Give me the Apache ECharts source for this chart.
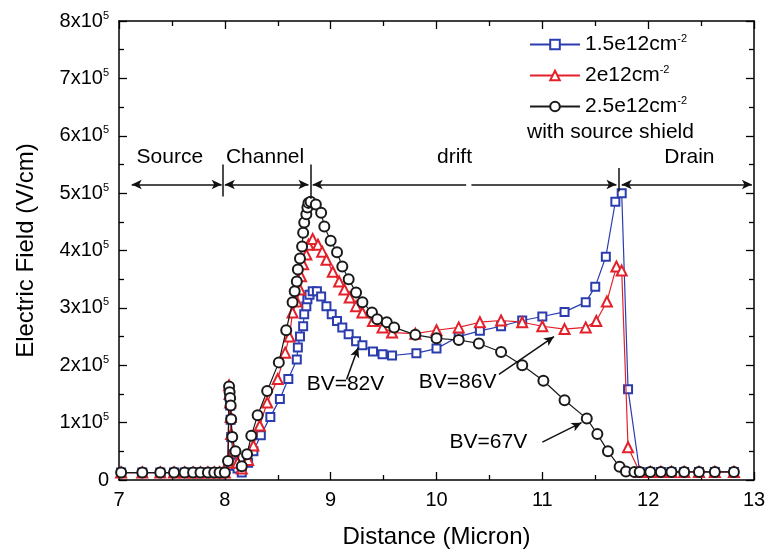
<!DOCTYPE html>
<html><head><meta charset="utf-8">
<script src="https://cdn.jsdelivr.net/npm/echarts@6/dist/echarts.min.js"></script>
<style>html,body{margin:0;padding:0;background:#fff}#c{width:770px;height:554px}</style>
</head><body><div id="c"></div>
<script>
// ---- data (y in units of 1e5 V/cm) ----
const seriesNames = ['1.5e12cm', '2e12cm', '2.5e12cm'];
const xTickLabels = ['7','8','9','10','11','12','13'];
const yTickLabels = ['0','1x10','2x10','3x10','4x10','5x10','6x10','7x10','8x10'];

const xBlue = [7.02,7.22,7.39,7.52,7.62,7.70,7.77,7.84,7.90,7.95,8.0,
  8.03,8.04,8.045,8.05,8.055,8.06,8.08,8.12,8.16,8.22,8.27,8.34,8.43,
  8.52,8.60,8.68,8.69,8.71,8.74,8.75,8.77,8.78,8.80,8.83,8.87,
  8.91,8.96,9.01,9.06,9.11,9.17,9.24,9.30,9.40,9.49,9.58,
  9.81,10.00,10.21,10.41,10.61,10.81,11.00,11.21,11.41,11.50,11.60,11.69,11.75,11.81,
  11.92,12.02,12.12,12.22,12.34,12.48,12.63,12.81];
const yBlue = [0.13,0.13,0.13,0.13,0.13,0.13,0.13,0.13,0.13,0.13,0.13,
  0.25,1.60,1.45,1.30,1.05,0.75,0.45,0.20,0.13,0.30,0.50,0.78,1.10,
  1.41,1.76,2.10,2.31,2.50,2.68,2.89,3.03,3.15,3.23,3.29,3.29,
  3.20,3.03,2.89,2.77,2.66,2.54,2.42,2.35,2.24,2.19,2.17,
  2.21,2.29,2.50,2.60,2.68,2.78,2.85,2.93,3.10,3.37,3.89,4.85,5.00,1.58,
  0.14,0.14,0.14,0.14,0.14,0.14,0.14,0.14];

const xRed = [7.02,7.22,7.39,7.52,7.62,7.70,7.77,7.84,7.90,7.95,8.0,
  8.03,8.04,8.045,8.05,8.055,8.06,8.08,8.12,8.16,8.22,8.27,8.33,8.40,
  8.50,8.57,8.61,8.64,8.68,8.71,8.72,8.74,8.77,8.79,8.83,
  8.88,8.92,8.96,9.02,9.08,9.13,9.18,9.24,9.30,9.40,9.49,9.58,
  9.80,10.00,10.21,10.41,10.61,10.81,11.00,11.21,11.41,11.51,11.61,11.70,11.75,11.81,
  11.92,12.02,12.12,12.22,12.34,12.48,12.63,12.81];
const yRed = [0.13,0.13,0.13,0.13,0.13,0.13,0.13,0.13,0.13,0.13,0.13,
  0.30,1.65,1.50,1.35,1.10,0.80,0.50,0.30,0.20,0.35,0.60,0.95,1.35,
  1.76,2.22,2.50,2.92,3.11,3.32,3.55,3.76,3.93,4.10,4.20,
  4.10,3.98,3.84,3.63,3.46,3.32,3.18,3.03,2.92,2.77,2.66,2.57,
  2.55,2.61,2.66,2.75,2.78,2.75,2.68,2.63,2.66,2.77,3.11,3.72,3.65,0.57,
  0.14,0.14,0.14,0.14,0.14,0.14,0.14,0.14];

const xBlack = [7.02,7.22,7.39,7.52,7.62,7.70,7.77,7.84,7.90,7.95,8.0,
  8.03,8.04,8.045,8.05,8.055,8.06,8.07,8.10,8.16,8.21,8.25,8.31,8.40,
  8.51,8.58,8.64,8.66,8.68,8.69,8.71,8.73,8.74,8.75,8.77,8.78,8.79,8.81,
  8.86,8.91,8.94,9.00,9.06,9.11,9.17,9.24,9.30,9.39,9.44,9.53,9.60,
  9.80,10.00,10.21,10.40,10.61,10.81,11.01,11.21,11.42,11.52,11.62,11.73,11.79,11.87,
  11.92,12.02,12.12,12.22,12.34,12.48,12.63,12.81];
const yBlack = [0.13,0.13,0.13,0.13,0.13,0.13,0.13,0.13,0.13,0.13,0.13,
  0.33,1.63,1.53,1.43,1.30,1.06,0.75,0.50,0.24,0.45,0.77,1.13,1.55,
  2.05,2.61,3.10,3.29,3.46,3.67,3.86,4.07,4.31,4.49,4.63,4.75,4.83,4.85,
  4.80,4.66,4.42,4.17,3.97,3.72,3.50,3.27,3.10,2.92,2.80,2.75,2.66,
  2.53,2.47,2.44,2.38,2.23,2.00,1.73,1.39,1.07,0.80,0.50,0.23,0.15,0.14,
  0.14,0.14,0.14,0.14,0.14,0.14,0.14,0.14];

// ---- annotations (data coordinates) ----
const regionNames = ['Source','Channel','drift','Drain'];
const regionTextX = [7.48, 8.38, 10.17, 12.39];
const regionTextY = 5.63;
const arrowY = 5.15;
const arrowSpans = [[7.12,7.97],[8.0,8.79],[8.83,10.28],[10.33,11.70],[11.75,12.98]];
const arrowEnds  = [['arrow','arrow'],['arrow','arrow'],['arrow','none'],['none','arrow'],['arrow','arrow']];
const boundaryX = [7.98, 8.81, 11.72];
const boundaryY = [[4.94,5.50],[4.90,5.50],[5.03,5.44]];
const bvTexts = ['BV=82V','BV=86V','BV=67V'];
const bvTextPos = [[9.14,1.67],[10.20,1.70],[10.49,0.66]];
const bvArrows = [[[9.15,1.75],[9.26,2.31]],[[10.59,1.84],[11.11,2.50]],[[11.0,0.66],[11.37,1.00]]];

const FONT = 'Liberation Sans, Arial, sans-serif';
const colors = ['#2a3cae', '#e3212b', '#1a1a1a'];
const symbols = ['emptyRect', 'emptyTriangle', 'emptyCircle'];
const symSizes = [8, 10, 10];
const xs = [xBlue, xRed, xBlack], ys = [yBlue, yRed, yBlack];

const markLineData = [];
arrowSpans.forEach((s, i) => markLineData.push([
  {coord: [s[0], arrowY], symbol: arrowEnds[i][0]},
  {coord: [s[1], arrowY], symbol: arrowEnds[i][1]}]));
boundaryX.forEach((bx, i) => markLineData.push([
  {coord: [bx, boundaryY[i][0]], symbol: 'none'},
  {coord: [bx, boundaryY[i][1]], symbol: 'none'}]));
bvArrows.forEach(a => markLineData.push([
  {coord: a[0], symbol: 'none'}, {coord: a[1], symbol: 'arrow'}]));

const series = seriesNames.map((n, k) => ({
  name: n, type: 'line', xAxisIndex: 0, yAxisIndex: 0,
  data: xs[k].map((x, i) => [x, ys[k][i]]),
  symbol: symbols[k], symbolSize: symSizes[k],
  lineStyle: {color: colors[k], width: 1.2},
  itemStyle: {color: colors[k], borderColor: colors[k], borderWidth: 1.4},
  emphasis: {disabled: true}, animation: false, z: 2 + k
}));
series.push({
  type: 'line', data: [], silent: true, animation: false, z: 10,
  markLine: {
    silent: true, animation: false, symbolSize: [7, 10],
    label: {show: false},
    lineStyle: {color: '#111', width: 1.5, type: 'solid'},
    emphasis: {disabled: true},
    data: markLineData
  }
});

const axisCommon = {
  axisLine: {show: true, onZero: false, lineStyle: {color: '#000', width: 1.5}},
  axisTick: {show: true, inside: true, length: 8, lineStyle: {color: '#000', width: 1.3}},
  minorTick: {show: true, splitNumber: 2, length: 5, lineStyle: {color: '#000', width: 1.3}},
  splitLine: {show: false}
};

const chart = echarts.init(document.getElementById('c'));
chart.setOption({
  backgroundColor: '#fff',
  animation: false,
  grid: {left: 119, right: 16, top: 21, bottom: 73},
  legend: {
    show: true, orient: 'vertical', left: 524, top: 28,
    itemWidth: 50, itemHeight: 12, itemGap: 9,
    data: seriesNames,
    formatter: n => '{t|' + n + '}{s|-2}',
    textStyle: {
      fontFamily: FONT, color: '#000',
      rich: {t: {fontSize: 21, fontFamily: FONT, lineHeight: 23}, s: {fontSize: 11, fontFamily: FONT, verticalAlign: 'top', lineHeight: 12}}
    },
    selectedMode: false
  },
  xAxis: [
    Object.assign({}, axisCommon, {
      type: 'value', position: 'bottom', min: 7, max: 13, interval: 1,
      name: 'Distance (Micron)', nameLocation: 'middle', nameGap: 45,
      nameTextStyle: {fontFamily: FONT, fontSize: 24, color: '#000'},
      axisLabel: {fontFamily: FONT, fontSize: 20, color: '#000', margin: 10,
        formatter: (v) => xTickLabels[Math.round(v - 7)]}
    }),
    Object.assign({}, axisCommon, {
      type: 'value', position: 'top', min: 7, max: 13, interval: 1,
      axisLabel: {show: false}
    })
  ],
  yAxis: [
    Object.assign({}, axisCommon, {
      type: 'value', position: 'left', min: 0, max: 8, interval: 1,
      name: 'Electric Field (V/cm)', nameLocation: 'middle', nameGap: 81,
      nameTextStyle: {fontFamily: FONT, fontSize: 24, color: '#000'},
      axisLabel: {fontFamily: FONT, color: '#000', margin: 10,
        formatter: (v) => { const i = Math.round(v); return i === 0 ? '{b|0}' : '{b|' + yTickLabels[i] + '}{s|5}'; },
        rich: {b: {fontSize: 20, fontFamily: FONT, lineHeight: 22}, s: {fontSize: 11, fontFamily: FONT, verticalAlign: 'top', lineHeight: 12}}
      }
    }),
    Object.assign({}, axisCommon, {
      type: 'value', position: 'right', min: 0, max: 8, interval: 1,
      axisLabel: {show: false}
    })
  ],
  series: series
});

const graphics = [];
regionNames.forEach((t, i) => {
  const p = chart.convertToPixel({gridIndex: 0}, [regionTextX[i], regionTextY]);
  graphics.push({type: 'text', x: p[0], y: p[1], z: 20,
    style: {text: t, fontFamily: FONT, fontSize: 21, fill: '#000', align: 'center', verticalAlign: 'middle'}});
});
bvTexts.forEach((t, i) => {
  const p = chart.convertToPixel({gridIndex: 0}, bvTextPos[i]);
  graphics.push({type: 'text', x: p[0], y: p[1], z: 20,
    style: {text: t, fontFamily: FONT, fontSize: 21, fill: '#000', align: 'center', verticalAlign: 'middle'}});
});
graphics.push({type: 'text', left: 527, top: 122, z: 20,
  style: {text: 'with source shield', fontFamily: FONT, fontSize: 21, fill: '#000'}});
chart.setOption({graphic: graphics});
</script>
</body></html>
